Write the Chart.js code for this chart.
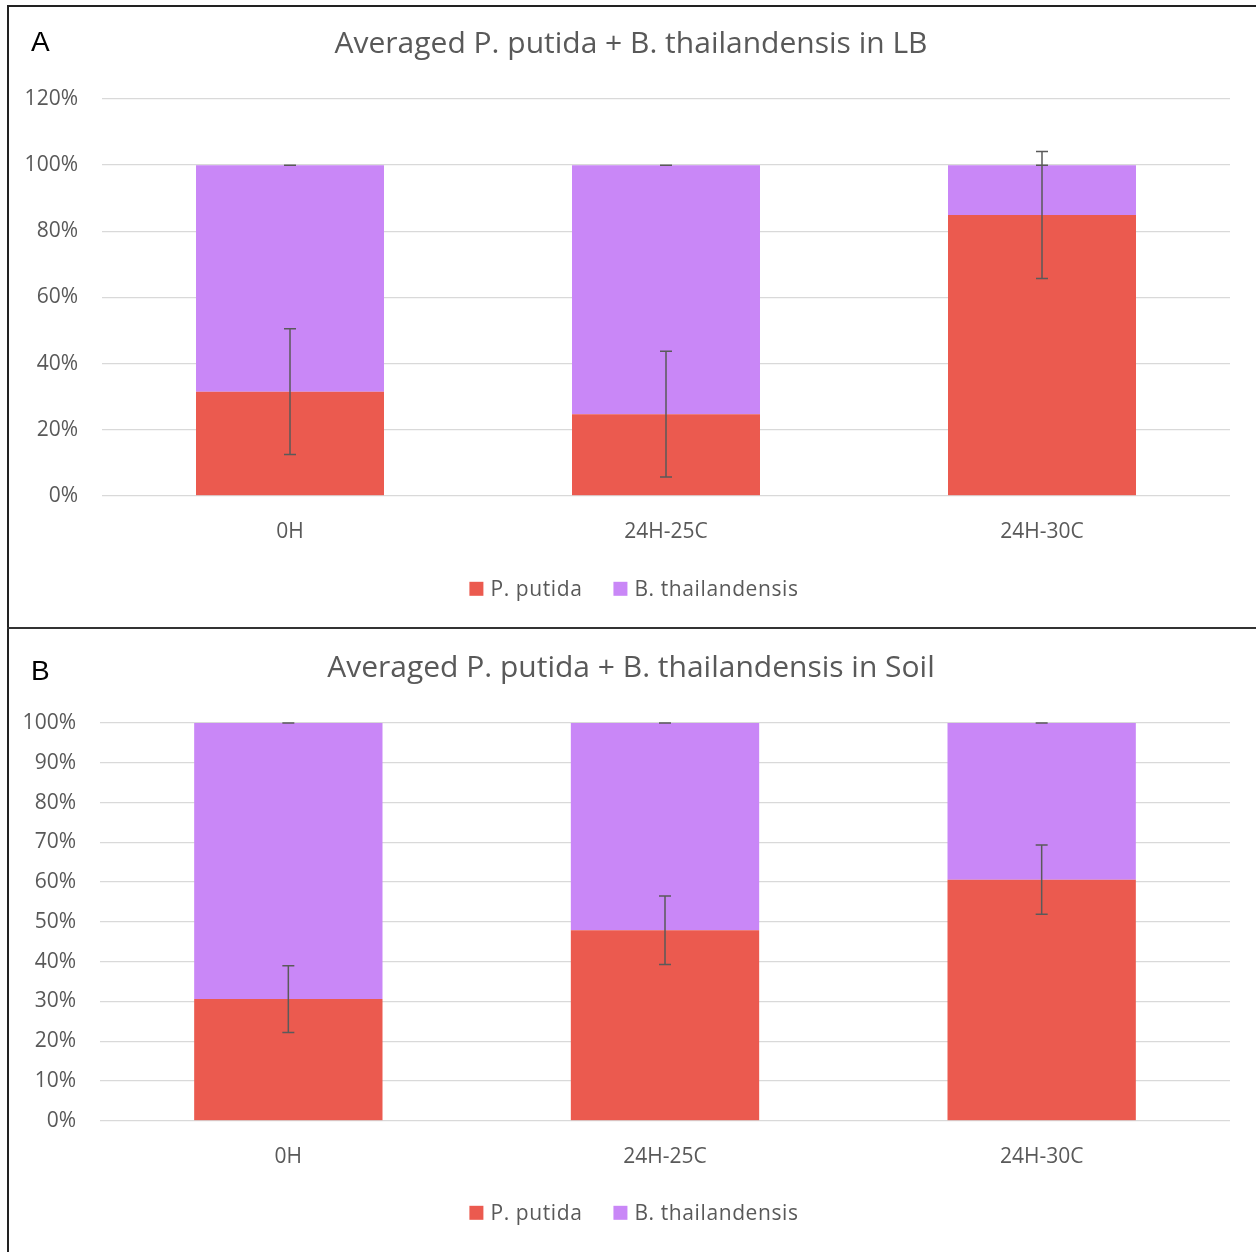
<!DOCTYPE html>
<html>
<head>
<meta charset="utf-8">
<script src="https://cdn.jsdelivr.net/npm/chart.js@4.4.1/dist/chart.umd.min.js"></script>
<style>
  html, body { margin: 0; padding: 0; background: #fff; }
  body { width: 1256px; height: 1252px; position: relative; overflow: hidden; font-family: "Open Sans", sans-serif; }
  .frame { position: absolute; left: 7px; top: 5px; width: 1260px; height: 1260px; border-left: 2px solid #222; border-top: 2px solid #222; }
  .divider { position: absolute; left: 7px; top: 627px; width: 1260px; height: 2px; background: #333; }
  .panel { position: absolute; left: 10px; width: 1246px; }
  .tag { position: absolute; font-family: "Liberation Sans", sans-serif; font-size: 28px; color: #000; }
</style>
</head>
<body>
<div class="frame"></div>
<div class="divider"></div>
<div class="panel" style="top:7px;height:620px"><canvas id="chartA" width="1246" height="620"></canvas></div>
<div class="panel" style="top:630px;height:622px"><canvas id="chartB" width="1246" height="622"></canvas></div>
<div class="tag" style="left:31px;top:26px">A</div>
<div class="tag" style="left:31px;top:655px">B</div>
<script>
// Sampling times / conditions
const categories = ['0H', '24H-25C', '24H-30C'];
const seriesNames = ['P. putida', 'B. thailandensis'];

// LB medium: P. putida share (%) and its error
const lbPutida = [31.5, 24.7, 84.9];
const lbPutidaErr = [19.0, 19.0, 19.2];
const lbThai = [68.5, 75.3, 15.1];
const lbThaiErr = [0, 0, 0];
const lbTicks = { min: 0, max: 120, step: 20 };

// Soil: P. putida share (%) and its error
const soilPutida = [30.6, 47.9, 60.6];
const soilPutidaErr = [8.4, 8.6, 8.7];
const soilThai = [69.4, 52.1, 39.4];
const soilThaiErr = [0, 0, 0];
const soilTicks = { min: 0, max: 100, step: 10 };

const RED = '#EB5A4F';
const PURPLE = '#C987F7';
const TEXT = '#595959';

// Draws symmetric error bars at the top of each stacked segment
const errorBars = {
  id: 'errorBars',
  afterDatasetsDraw(chart) {
    const ctx = chart.ctx;
    const y = chart.scales.y;
    ctx.save();
    ctx.strokeStyle = '#5a5a5a';
    ctx.lineWidth = 1.5;
    chart.data.datasets.forEach((ds, di) => {
      const meta = chart.getDatasetMeta(di);
      const base = ds.data.map((_, i) =>
        chart.data.datasets.slice(0, di).reduce((s, d) => s + d.data[i], 0));
      meta.data.forEach((bar, i) => {
        const top = base[i] + ds.data[i];
        const e = ds.errors[i];
        const x = bar.x;
        const y1 = y.getPixelForValue(top + e);
        const y2 = y.getPixelForValue(top - e);
        const cap = 6;
        ctx.beginPath();
        ctx.moveTo(x, y1); ctx.lineTo(x, y2);
        ctx.moveTo(x - cap, y1); ctx.lineTo(x + cap, y1);
        ctx.moveTo(x - cap, y2); ctx.lineTo(x + cap, y2);
        ctx.stroke();
      });
    });
    ctx.restore();
  }
};

// Panel heading centred across the whole canvas
const panelTitle = {
  id: 'panelTitle',
  afterDraw(chart, args, opts) {
    const ctx = chart.ctx;
    ctx.save();
    ctx.font = '30px "Open Sans"';
    ctx.fillStyle = TEXT;
    ctx.textAlign = 'center';
    ctx.textBaseline = 'middle';
    ctx.fillText(opts.text, chart.width / 2 - 2, opts.y);
    ctx.restore();
  }
};

// Series key drawn centred under the category labels
const bottomLegend = {
  id: 'bottomLegend',
  afterDraw(chart, args, opts) {
    const ctx = chart.ctx;
    ctx.save();
    ctx.font = '21px "Open Sans"';
    if ('letterSpacing' in ctx) ctx.letterSpacing = '0.6px';
    ctx.textBaseline = 'middle';
    const box = 14, gapText = 7, gapItem = 31;
    const items = chart.data.datasets.map(d => ({
      label: d.label, color: d.backgroundColor, w: ctx.measureText(d.label).width
    }));
    const total = items.reduce((s, it) => s + box + gapText + it.w, 0) + gapItem * (items.length - 1);
    let x = chart.width / 2 + 1 - total / 2;
    const y = chart.chartArea.bottom + opts.offset;
    items.forEach(it => {
      ctx.fillStyle = it.color;
      ctx.fillRect(x, y - box / 2, box, box);
      x += box + gapText;
      ctx.fillStyle = TEXT;
      ctx.fillText(it.label, x, y + 1);
      x += it.w + gapItem;
    });
    ctx.restore();
  }
};

function makeChart(id, title, putida, putidaErr, thai, thaiErr, ticks, yWidth, top, titleY, legendOffset) {
  return new Chart(document.getElementById(id), {
    type: 'bar',
    data: {
      labels: categories,
      datasets: [
        { label: seriesNames[0], data: putida, errors: putidaErr, backgroundColor: RED },
        { label: seriesNames[1], data: thai, errors: thaiErr, backgroundColor: PURPLE }
      ]
    },
    options: {
      responsive: false,
      animation: false,
      layout: { padding: { left: 8, right: 26, top: top, bottom: 66 } },
      datasets: { bar: { barPercentage: 0.5, categoryPercentage: 1.0 } },
      plugins: {
        title: { display: false },
        panelTitle: { text: title, y: titleY },
        legend: { display: false },
        bottomLegend: { offset: legendOffset },
        tooltip: { enabled: false }
      },
      scales: {
        x: {
          stacked: true,
          grid: { display: false },
          border: { display: false },
          ticks: { color: TEXT, font: { family: 'Open Sans', size: 21 }, padding: 16 }
        },
        y: {
          stacked: true,
          min: ticks.min, max: ticks.max,
          afterFit(axis) { axis.width = yWidth; },
          grid: { color: '#d9d9d9', lineWidth: 1.3, drawTicks: false },
          border: { display: false },
          ticks: {
            stepSize: ticks.step, color: TEXT, padding: 24,
            font: { family: 'Open Sans', size: 21 },
            callback: v => v + '%'
          }
        }
      }
    },
    plugins: [errorBars, panelTitle, bottomLegend]
  });
}

makeChart('chartA', 'Averaged P. putida + B. thailandensis in LB', lbPutida, lbPutidaErr, lbThai, lbThaiErr, lbTicks, 84, 92, 37, 93);
makeChart('chartB', 'Averaged P. putida + B. thailandensis in Soil', soilPutida, soilPutidaErr, soilThai, soilThaiErr, soilTicks, 82, 93, 38, 92);
</script>
</body>
</html>
